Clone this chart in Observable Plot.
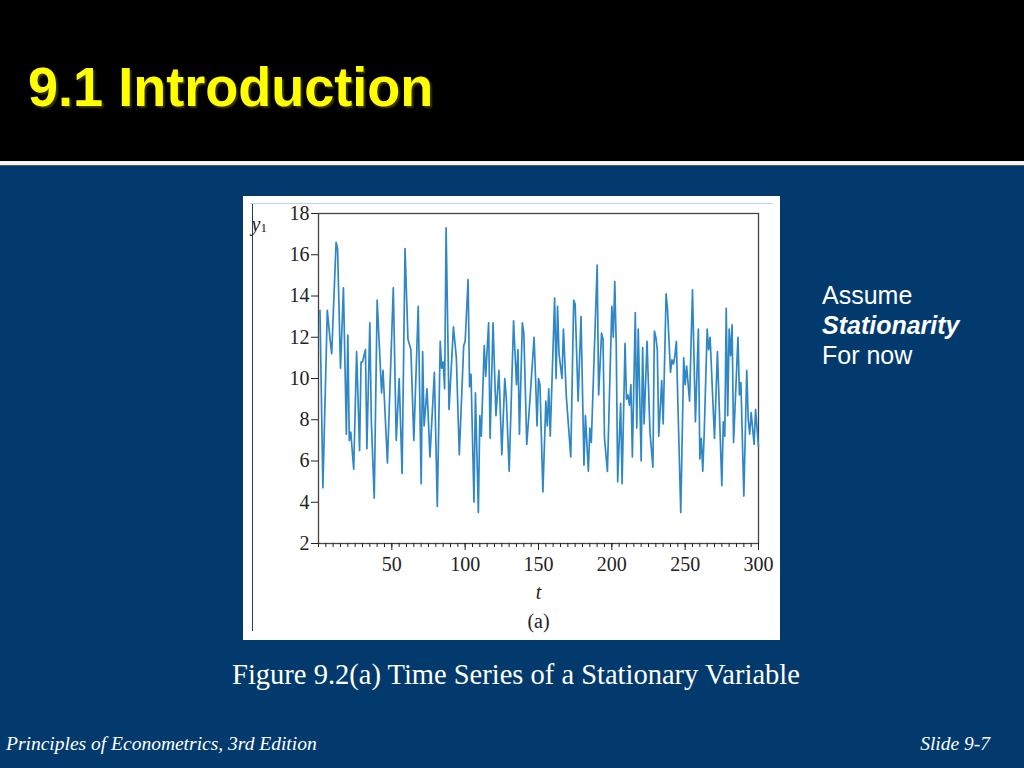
<!DOCTYPE html>
<html>
<head>
<meta charset="utf-8">
<script src="https://cdn.jsdelivr.net/npm/d3@7"></script>
<script src="https://cdn.jsdelivr.net/npm/@observablehq/plot@0.6"></script>
<style>
  html, body { margin: 0; padding: 0; }
  body { width: 1024px; height: 768px; position: relative; overflow: hidden; background: #023a6d; }
  #header { position: absolute; left: 0; top: 0; width: 1024px; height: 161px; background: #000; }
  #rule { position: absolute; left: 0; top: 161px; width: 1024px; height: 4px; background: #f4f4f4; }
  #rule2 { position: absolute; left: 0; top: 165px; width: 1024px; height: 1px; background: #555; }
  #title { position: absolute; left: 28px; top: 59px; font-family: "Liberation Sans", Arial, sans-serif; font-weight: bold; font-size: 56px; color: #ffff00; line-height: 1; text-shadow: 2px 2px 2px #3a3a00; transform: scaleX(0.965); transform-origin: left top; white-space: nowrap; }
  #box { position: absolute; left: 243px; top: 196px; width: 537px; height: 444px; background: #fff; }
  #box svg { display: block; }
  #hl { position: absolute; left: 7px; top: 7px; width: 523px; height: 1px; background: #bcd6e8; }
  #vl { position: absolute; left: 9px; top: 8px; width: 1px; height: 427px; background: #23405e; }
  #side { position: absolute; left: 822px; top: 280px; font-family: "Liberation Sans", Arial, sans-serif; font-size: 25px; line-height: 30px; color: #fff; }
  #caption { position: absolute; left: 0; width: 1032px; top: 659px; text-align: center; font-family: "Liberation Serif", "Times New Roman", serif; font-size: 28.5px; color: #fff; white-space: nowrap; }
  .foot { position: absolute; top: 733px; font-family: "Liberation Serif", "Times New Roman", serif; font-style: italic; font-size: 19.5px; color: #fff; white-space: nowrap; }
</style>
</head>
<body>
<div id="header"></div>
<div id="rule"></div>
<div id="rule2"></div>
<div id="title">9.1 Introduction</div>
<div id="box"><div id="hl"></div><div id="vl"></div></div>
<div id="side">Assume<br><b><i>Stationarity</i></b><br>For now</div>
<div id="caption">Figure 9.2(a) Time Series of a Stationary Variable</div>
<div class="foot" style="left:6px">Principles of Econometrics, 3rd Edition</div>
<div class="foot" style="right:34px">Slide 9-7</div>
<script>
// time index (t) and series values (y1) at turning points
const t = [1,3,6,8,9,12,13,15,17,19,20,21,22,24,26,28,29,30,32,33,35,36,38,40,43,44,47,
  51,53,55,57,59,61,63,65,68,70,71,72,74,76,79,81,83,84,85,86,87,89,92,94,96,99,
  100,102,103,104,106,107,109,110,111,113,114,116,117,119,121,123,125,127,128,130,133,135,136,137,139,140,142,144,147,148,
  149,150,151,153,155,156,157,158,161,162,163,164,166,167,169,172,174,175,177,179,181,182,184,185,186,190,191,193,194,195,197,
  200,201,202,203,204,206,207,209,210,211,212,213,214,216,217,218,220,221,222,224,226,228,229,230,231,232,234,235,237,238,240,241,242,243,244,245,247,
  249,250,251,253,255,257,259,260,261,262,263,265,266,267,270,272,275,276,277,278,279,280,281,282,283,285,286,287,288,290,292,293,294,295,297,298,300];
const y1 = [13.3,4.7,13.3,11.8,11.2,16.6,16.3,10.5,14.4,7.3,12.1,7.0,7.4,5.6,11.3,6.5,10.8,10.8,11.4,6.6,12.7,8.0,4.2,13.8,9.3,10.4,5.9,
  14.4,7.0,10.0,5.4,16.3,11.9,11.4,7.0,13.5,4.9,11.3,7.7,9.5,6.2,10.3,3.8,11.8,10.5,10.8,9.5,17.3,8.5,12.5,11.0,6.3,11.6,
  11.8,14.8,9.6,10.2,4.0,9.3,3.5,8.2,7.2,11.6,10.1,12.7,7.1,12.7,8.2,10.4,6.3,10.0,9.1,5.5,12.8,9.7,11.4,7.3,12.7,12.2,6.8,8.8,12.0,10.0,
  7.7,10.0,9.7,4.5,8.9,7.7,9.5,7.2,13.9,10.0,13.5,11.2,10.0,12.4,9.1,6.2,13.8,13.6,8.9,13.0,5.8,8.2,5.5,7.6,6.9,15.5,9.2,12.2,11.9,7.1,5.5,
  13.5,12.0,14.7,11.6,5.0,8.8,4.9,11.7,9.0,9.2,8.7,9.7,6.2,13.2,7.6,12.4,6.0,11.5,7.8,11.8,7.4,5.7,12.3,12.0,11.4,7.2,9.9,7.8,14.1,13.3,10.3,10.9,10.7,11.1,11.8,8.9,3.5,
  11.0,9.7,10.6,8.9,14.3,7.9,12.4,6.1,7.1,5.5,7.4,12.4,11.4,12.0,7.1,11.3,4.8,7.9,7.2,13.4,8.2,12.4,11.1,12.6,6.9,10.3,12.0,9.2,9.8,4.3,10.4,8.0,7.3,8.35,6.8,8.5,6.7];
const yTicks = [2,4,6,8,10,12,14,16,18];
const xTicks = [50,100,150,200,250,300];
const xMinor = d3.range(0, 301, 5);

const data = t.map((d, i) => ({t: d, y: y1[i]}));

const chart = Plot.plot({
  width: 537,
  height: 444,
  marginLeft: 75,
  marginRight: 22,
  marginTop: 17,
  marginBottom: 97,
  style: {background: "#fff", color: "#222", fontFamily: "'Liberation Serif', 'Times New Roman', serif", fontSize: "20px"},
  x: {domain: [0, 300]},
  y: {domain: [2, 18]},
  marks: [
    Plot.frame({stroke: "#444", strokeWidth: 1.3}),
    Plot.lineY(data, {x: "t", y: "y", stroke: "#2f87c6", strokeWidth: 1.7}),
    Plot.axisY({ticks: yTicks, tickSize: 7, tickPadding: 2, label: null, fontSize: 20}),
    Plot.axisX({ticks: xMinor, tickSize: 4, tickFormat: () => "", label: null}),
    Plot.axisX({ticks: xTicks, tickSize: 7, tickPadding: 6, label: null, fontSize: 20}),
    Plot.text(["t"], {text: d => d, frameAnchor: "bottom", dy: 55, fontStyle: "italic", fontSize: 20}),
    Plot.text(["(a)"], {text: d => d, frameAnchor: "bottom", dy: 84, fontSize: 20}),
    Plot.text(["y"], {text: d => d, frameAnchor: "top-left", dx: -67, dy: 3, textAnchor: "start", fontStyle: "italic", fontSize: 20}),
    Plot.text(["1"], {text: d => d, frameAnchor: "top-left", dx: -58, dy: 9, textAnchor: "start", fontSize: 13})
  ]
});
document.getElementById("box").appendChild(chart);
</script>
</body>
</html>
